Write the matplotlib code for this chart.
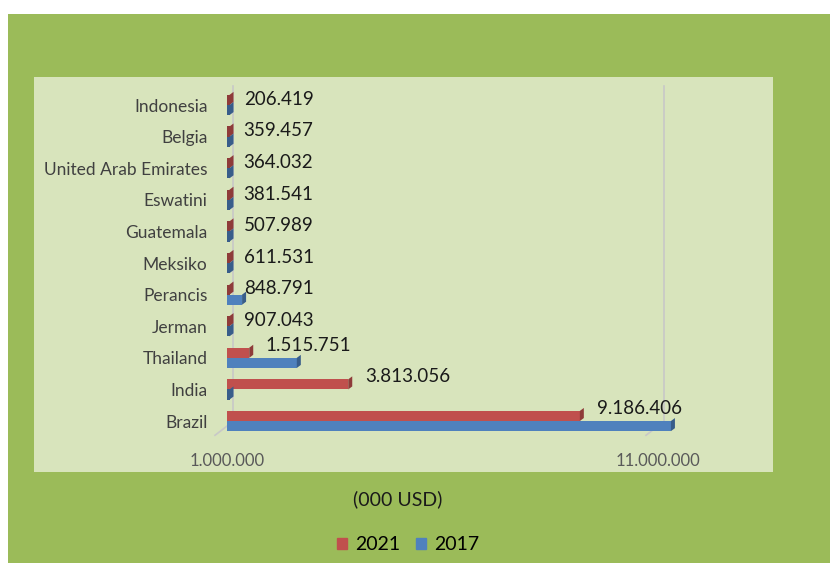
import matplotlib.pyplot as plt
from matplotlib.patches import Rectangle, Polygon
import matplotlib.transforms as mtransforms

plt.rcParams['font.family'] = ['Lato', 'DejaVu Sans']

# data (000 USD)
countries = ['Brazil', 'India', 'Thailand', 'Jerman', 'Perancis', 'Meksiko',
             'Guatemala', 'Eswatini', 'United Arab Emirates', 'Belgia', 'Indonesia']
v2021 = [9186406, 3813056, 1515751, 907043, 848791, 611531,
         507989, 381541, 364032, 359457, 206419]
v2017 = [11300000, 420000, 2620000, 650000, 1350000, 540000,
         300000, 250000, 480000, 310000, 150000]
labels = ['9.186.406', '3.813.056', '1.515.751', '907.043', '848.791', '611.531',
          '507.989', '381.541', '364.032', '359.457', '206.419']
ticks = [1000000, 11000000]
tick_labels = ['1.000.000', '11.000.000']

red = '#C0504D'
blue = '#4F81BD'
red_dark = '#8E3B39'
blue_dark = '#385D8A'
W, H = 830, 563

fig = plt.figure(figsize=(W / 100, H / 100), dpi=100)
fig.patch.set_facecolor('white')

def px(x0, y0, x1, y1):
    return [x0 / W, 1 - y1 / H, (x1 - x0) / W, (y1 - y0) / H]

# green chart area + light plot panel
b = px(8, 14, 830, 563)
fig.patches.append(Rectangle((b[0], b[1]), b[2], b[3], transform=fig.transFigure,
                             facecolor='#9BBB59', edgecolor='none', zorder=-2))
b = px(34, 77, 773, 472)
fig.patches.append(Rectangle((b[0], b[1]), b[2], b[3], transform=fig.transFigure,
                             facecolor='#D8E4BC', edgecolor='none', zorder=-1))

ax = fig.add_axes(px(227, 77, 773, 440))
ax.set_zorder(1)
ax.set_facecolor('none')
for s in ax.spines.values():
    s.set_visible(False)

lo = 1000000
scale = 43.1 / 1e6  # px per unit
hi = lo + (773 - 227) / scale
ax.set_xlim(lo, hi)
ax.set_ylim(-0.6, 10 + 28 / 31.6)

ypos = list(range(len(countries)))
bh = 0.32

# back-wall gridlines, shifted for the 3D look, plus the floor edge
shift = mtransforms.ScaledTranslation(6 / 100, 6 / 100, fig.dpi_scale_trans)
for t in ticks:
    ax.plot([t, t], [-0.35, 10.4], color='#C8C8C8', lw=1.2,
            transform=ax.transData + shift, zorder=1, clip_on=False)
    ax.plot([t, t - 12 / scale], [-0.35 + 6 / 31.6, -0.35 - 0.1], color='#C8C8C8',
            lw=1.2, zorder=1, clip_on=False)

ax.barh([y + bh / 2 for y in ypos], v2021, height=bh, color=red, zorder=3)
ax.barh([y - bh / 2 for y in ypos], v2017, height=bh, color=blue, zorder=3)

# 3D end faces and stubs
dx = 4 / scale
dy = 3 / 31.6
for y, a, c in zip(ypos, v2021, v2017):
    for val, yc, col in ((a, y + bh / 2, red_dark), (c, y - bh / 2, blue_dark)):
        end = max(val, lo)
        if val < lo:
            ax.add_patch(Rectangle((lo, yc - bh / 2), 2.5 / scale, bh,
                                   facecolor=col, edgecolor='none', zorder=3))
            end = lo + 2.5 / scale
        ax.add_patch(Polygon([(end, yc - bh / 2), (end + dx, yc - bh / 2 + dy),
                              (end + dx, yc + bh / 2 + dy), (end, yc + bh / 2)],
                             closed=True, facecolor=col, edgecolor='none',
                             zorder=3, clip_on=False))

# data labels
for y, v, lab in zip(ypos, v2021, labels):
    dy_lab = 0.4 if v > lo else 0.18
    ax.annotate(lab, (max(v, lo), y + dy_lab), xytext=(12, 0), textcoords='offset points',
                ha='left', va='center', fontsize=13.5, color='#1A1A1A')

ax.set_yticks(ypos)
ax.set_yticklabels(countries, fontsize=12.5, color='#404040')
ax.tick_params(axis='y', length=0, pad=14)
ax.set_xticks(ticks)
ax.set_xticklabels(tick_labels, fontsize=12, color='#595959')
ax.tick_params(axis='x', length=0, pad=9)

fig.text(398 / W, 1 - 499 / H, '(000 USD)', ha='center', va='center',
         fontsize=14, color='#1A1A1A')

handles = [Rectangle((0, 0), 1, 1, color=red), Rectangle((0, 0), 1, 1, color=blue)]
fig.legend(handles, ['2021', '2017'], loc='center', bbox_to_anchor=(408 / W, 1 - 545 / H),
           ncol=2, frameon=False, fontsize=14, handlelength=0.55, handleheight=0.55,
           handletextpad=0.4, columnspacing=0.8)

fig.savefig('out.png', dpi=100, facecolor=fig.get_facecolor())
